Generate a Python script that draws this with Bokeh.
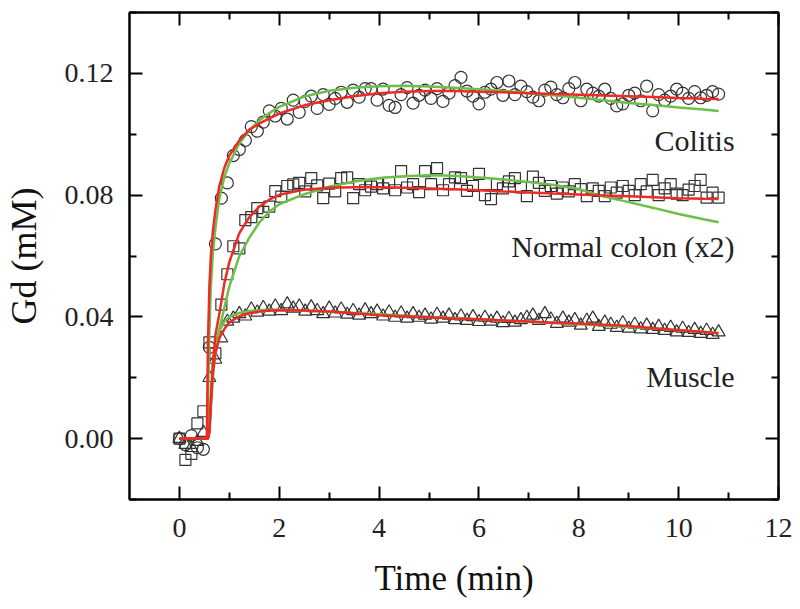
from bokeh.plotting import figure
from bokeh.models import LinearAxis, FixedTicker, PrintfTickFormatter, Range1d, Label, CustomJSTickFormatter
from bokeh.embed import file_html
from bokeh.resources import INLINE

# ---------------- data ----------------
time_min = [0.00, 0.12, 0.24, 0.36, 0.48, 0.60, 0.72, 0.84, 0.96, 1.08, 1.20, 1.32, 1.44, 1.56, 1.68,
            1.80, 1.92, 2.04, 2.16, 2.28, 2.40, 2.52, 2.64, 2.76, 2.88, 3.00, 3.12, 3.24, 3.36, 3.48,
            3.60, 3.72, 3.84, 3.96, 4.08, 4.20, 4.32, 4.44, 4.56, 4.68, 4.80, 4.92, 5.04, 5.16, 5.28,
            5.40, 5.52, 5.64, 5.76, 5.88, 6.00, 6.12, 6.24, 6.36, 6.48, 6.60, 6.72, 6.84, 6.96, 7.08,
            7.20, 7.32, 7.44, 7.56, 7.68, 7.80, 7.92, 8.04, 8.16, 8.28, 8.40, 8.52, 8.64, 8.76, 8.88,
            9.00, 9.12, 9.24, 9.36, 9.48, 9.60, 9.72, 9.84, 9.96, 10.08, 10.20, 10.32, 10.44, 10.56,
            10.68, 10.80]

colitis = [0.0000, -0.0020, 0.0010, -0.0030, -0.0035, 0.0300, 0.0640, 0.0790, 0.0840, 0.0930,
           0.0950, 0.0980, 0.1025, 0.1010, 0.1040, 0.1077, 0.1060, 0.1085, 0.1050, 0.1112,
           0.1072, 0.1108, 0.1125, 0.1085, 0.1130, 0.1098, 0.1118, 0.1138, 0.1105, 0.1145,
           0.1122, 0.1150, 0.1150, 0.1112, 0.1148, 0.1095, 0.1088, 0.1130, 0.1153, 0.1102,
           0.1128, 0.1145, 0.1118, 0.1150, 0.1108, 0.1135, 0.1160, 0.1187, 0.1142, 0.1125,
           0.1100, 0.1138, 0.1148, 0.1170, 0.1128, 0.1175, 0.1130, 0.1158, 0.1140, 0.1122,
           0.1110, 0.1145, 0.1155, 0.1130, 0.1120, 0.1150, 0.1170, 0.1110, 0.1148, 0.1135,
           0.1125, 0.1148, 0.1118, 0.1093, 0.1100, 0.1128, 0.1135, 0.1110, 0.1158, 0.1077,
           0.1130, 0.1112, 0.1125, 0.1148, 0.1135, 0.1118, 0.1140, 0.1120, 0.1128, 0.1140,
           0.1132]

normal_colon = [0.0000, -0.0070, -0.0050, 0.0050, 0.0090, 0.0316, 0.0280, 0.0440, 0.0540, 0.0632,
                0.0625, 0.0718, 0.0728, 0.0757, 0.0745, 0.0762, 0.0813, 0.0795, 0.0830, 0.0835,
                0.0840, 0.0812, 0.0856, 0.0832, 0.0790, 0.0838, 0.0812, 0.0856, 0.0858, 0.0790,
                0.0836, 0.0816, 0.0828, 0.0836, 0.0822, 0.0840, 0.0816, 0.0879, 0.0825, 0.0836,
                0.0810, 0.0879, 0.0836, 0.0889, 0.0816, 0.0836, 0.0858, 0.0856, 0.0814, 0.0830,
                0.0870, 0.0800, 0.0787, 0.0836, 0.0822, 0.0845, 0.0856, 0.0825, 0.0797, 0.0861,
                0.0840, 0.0814, 0.0830, 0.0805, 0.0825, 0.0812, 0.0836, 0.0820, 0.0797, 0.0822,
                0.0814, 0.0797, 0.0825, 0.0808, 0.0830, 0.0814, 0.0800, 0.0836, 0.0812, 0.0850,
                0.0800, 0.0822, 0.0836, 0.0805, 0.0800, 0.0818, 0.0830, 0.0850, 0.0792, 0.0808,
                0.0792]

muscle = [0.0000, -0.0020, -0.0030, -0.0010, 0.0020, 0.0200, 0.0260, 0.0330, 0.0385, 0.0395,
          0.0410, 0.0402, 0.0425, 0.0415, 0.0430, 0.0418, 0.0435, 0.0420, 0.0442, 0.0428,
          0.0435, 0.0418, 0.0432, 0.0420, 0.0410, 0.0428, 0.0412, 0.0425, 0.0408, 0.0420,
          0.0405, 0.0422, 0.0410, 0.0418, 0.0402, 0.0415, 0.0398, 0.0412, 0.0395, 0.0410,
          0.0398, 0.0405, 0.0392, 0.0408, 0.0395, 0.0405, 0.0390, 0.0402, 0.0388, 0.0400,
          0.0384, 0.0398, 0.0385, 0.0395, 0.0380, 0.0394, 0.0382, 0.0390, 0.0398, 0.0405,
          0.0388, 0.0410, 0.0392, 0.0378, 0.0395, 0.0382, 0.0390, 0.0372, 0.0388, 0.0395,
          0.0368, 0.0382, 0.0375, 0.0365, 0.0380, 0.0362, 0.0375, 0.0360, 0.0372, 0.0358,
          0.0368, 0.0355, 0.0365, 0.0350, 0.0362, 0.0348, 0.0358, 0.0345, 0.0355, 0.0342,
          0.0350]

fit_time = [0.0, 0.55, 0.57, 0.60, 0.63, 0.67, 0.72, 0.80, 0.90, 1.0, 1.2, 1.4, 1.6, 1.8, 2.0,
            2.5, 3.0, 3.5, 4.0, 4.5, 5.0, 5.5, 6.0, 6.5, 7.0, 7.5, 8.0, 8.5, 9.0, 9.5, 10.0,
            10.5, 10.8]

colitis_red = [0.0, 0.0, 0.030, 0.050, 0.060, 0.068, 0.075, 0.083, 0.089, 0.093, 0.098, 0.1015,
               0.1035, 0.1052, 0.1068, 0.1095, 0.1112, 0.1125, 0.1135, 0.1140, 0.1142, 0.1142,
               0.1140, 0.1138, 0.1135, 0.1132, 0.1130, 0.1127, 0.1125, 0.1122, 0.1119, 0.1117,
               0.1116]
colitis_green = [0.0, 0.0, 0.012, 0.035, 0.050, 0.061, 0.069, 0.079, 0.086, 0.0905, 0.097, 0.1013,
                 0.1045, 0.1070, 0.1090, 0.1124, 0.1143, 0.1153, 0.1158, 0.1159, 0.1157, 0.1153,
                 0.1148, 0.1142, 0.1135, 0.1128, 0.1120, 0.1112, 0.1103, 0.1096, 0.1088, 0.1081,
                 0.1076]

colon_red = [0.0, 0.0, 0.0, 0.003, 0.012, 0.024, 0.034, 0.041, 0.051, 0.058, 0.0675, 0.0728,
             0.0762, 0.0785, 0.0801, 0.0818, 0.0824, 0.0826, 0.0826, 0.0824, 0.0822, 0.0819,
             0.0816, 0.0812, 0.0809, 0.0805, 0.0802, 0.0799, 0.0796, 0.0793, 0.0790, 0.0788,
             0.0787]
colon_green = [0.0, 0.0, 0.0, 0.002, 0.010, 0.020, 0.028, 0.036, 0.043, 0.050, 0.060, 0.066,
               0.071, 0.0745, 0.0770, 0.0803, 0.0828, 0.0845, 0.0856, 0.0862, 0.0865, 0.0864,
               0.0858, 0.0851, 0.0843, 0.0833, 0.0820, 0.0795, 0.0777, 0.0758, 0.0738, 0.0721,
               0.0711]

muscle_red = [0.0, 0.0, 0.0, 0.002, 0.012, 0.022, 0.028, 0.033, 0.036, 0.0382, 0.0402, 0.0412,
              0.0418, 0.0421, 0.0422, 0.0421, 0.0418, 0.0412, 0.0405, 0.0402, 0.0399, 0.0395,
              0.0392, 0.0388, 0.0385, 0.0381, 0.0378, 0.0374, 0.0370, 0.0363, 0.0356, 0.0350,
              0.0346]
muscle_green = [0.0, 0.0, 0.0, 0.003, 0.015, 0.025, 0.031, 0.0355, 0.0385, 0.0400, 0.0413, 0.0419,
                0.0422, 0.0423, 0.0423, 0.0420, 0.0417, 0.0413, 0.0409, 0.0404, 0.0400, 0.0396,
                0.0392, 0.0388, 0.0384, 0.0380, 0.0376, 0.0372, 0.0367, 0.0362, 0.0356, 0.0351,
                0.0347]

series_labels = ["Colitis", "Normal colon (x2)", "Muscle"]

x_major = [0, 2, 4, 6, 8, 10, 12]
x_minor = [1, 3, 5, 7, 9, 11]
y_major = [0.00, 0.04, 0.08, 0.12]
y_minor = [-0.02, 0.02, 0.06, 0.10, 0.14]

# ---------------- figure ----------------
FONT = "Liberation Serif"
RED = "#ee2a24"
GREEN = "#6cc04a"

p = figure(width=800, height=609, output_backend="svg", toolbar_location=None,
           x_range=Range1d(-1, 12), y_range=Range1d(-0.02, 0.14),
           min_border_left=129, min_border_right=22, min_border_top=12, min_border_bottom=110)
p.grid.visible = False
p.outline_line_color = "black"
p.outline_line_width = 2
p.background_fill_color = "white"
p.border_fill_color = "white"

def style_axis(ax, show_labels):
    ax.axis_line_width = 2
    ax.axis_line_color = "black"
    ax.major_tick_in = 13
    ax.major_tick_out = 0
    ax.minor_tick_in = 7
    ax.minor_tick_out = 0
    ax.major_tick_line_width = 2
    ax.minor_tick_line_width = 2
    ax.major_label_text_font = FONT
    ax.axis_label_text_font = FONT
    ax.axis_label_text_font_style = "normal"
    ax.major_label_text_color = "#222222"
    ax.axis_label_text_color = "#111111"
    if show_labels:
        ax.major_label_text_font_size = "28px"
    else:
        ax.formatter = CustomJSTickFormatter(code="return ''")
        ax.major_label_standoff = 0

xb = p.xaxis[0]
xb.ticker = FixedTicker(ticks=x_major, minor_ticks=x_minor)
xb.axis_label = "Time (min)"
style_axis(xb, True)
xb.axis_label_text_font_size = "35px"
xb.major_label_standoff = 19
xb.axis_label_standoff = 19

yl = p.yaxis[0]
yl.ticker = FixedTicker(ticks=y_major, minor_ticks=y_minor)
yl.formatter = PrintfTickFormatter(format="%.2f")
yl.axis_label = "Gd (mM)"
style_axis(yl, True)
yl.axis_label_text_font_size = "36px"
yl.major_label_standoff = 16
yl.axis_label_standoff = 18

xt = LinearAxis(ticker=FixedTicker(ticks=x_major, minor_ticks=x_minor))
style_axis(xt, False)
p.add_layout(xt, "above")
yr = LinearAxis(ticker=FixedTicker(ticks=y_major, minor_ticks=y_minor))
style_axis(yr, False)
p.add_layout(yr, "right")

# data points
p.scatter(time_min, colitis, marker="circle", size=12, fill_alpha=0,
          line_color="#333333", line_width=1.2)
p.scatter(time_min, normal_colon, marker="square", size=11, fill_alpha=0,
          line_color="#333333", line_width=1.2)
p.scatter(time_min, muscle, marker="triangle", size=13, fill_alpha=0,
          line_color="#333333", line_width=1.2)

# fits
for g in (colitis_green, colon_green, muscle_green):
    p.line(fit_time, g, line_color=GREEN, line_width=2.5)
for r in (colitis_red, colon_red, muscle_red):
    p.line(fit_time, r, line_color=RED, line_width=2.5)

label_y = [0.0978, 0.0632, 0.0204]
for txt, ly in zip(series_labels, label_y):
    p.add_layout(Label(x=11.12, y=ly, text=txt, text_align="right", text_baseline="middle",
                       text_font=FONT, text_font_size="30px", text_color="#222222"))

open("out.html", "w").write(file_html(p, INLINE))
